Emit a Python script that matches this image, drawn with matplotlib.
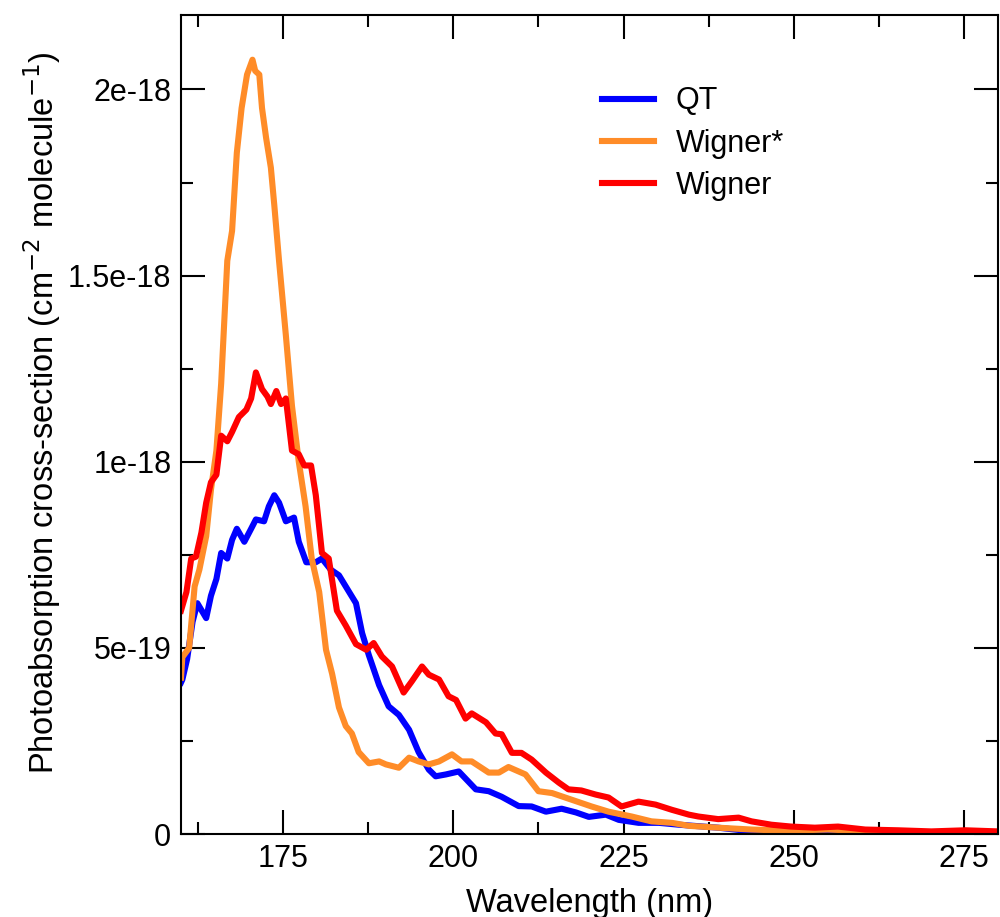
import matplotlib.pyplot as plt
from matplotlib.ticker import MultipleLocator, FixedLocator, FixedFormatter
import numpy as np

plt.rcParams['font.family'] = ['Liberation Sans', 'DejaVu Sans']

# wavelength (nm) and cross-section (units of 1e-19 cm^2 molecule^-1)
qt_x = [160.0, 160.2, 160.9, 161.7, 162.4, 163.7, 164.4, 165.2, 165.9, 166.8,
        167.5, 168.2, 169.3, 170.3, 171.0, 172.2, 172.9, 173.7, 174.4, 175.4,
        176.6, 177.3, 178.4, 179.8, 180.7, 182.0, 183.2, 184.2, 185.7, 186.6,
        187.6, 189.1, 190.5, 192.0, 193.5, 194.9, 196.4, 197.4, 198.9, 200.8,
        203.3, 205.2, 207.1, 209.6, 211.5, 213.6, 215.9, 218.0, 219.9, 222.4,
        224.3, 227.2, 230.2, 233.1, 238.9, 243.8, 248.8, 260.0, 280.0]
qt_y = [4.07, 4.15, 4.7, 5.7, 6.2, 5.8, 6.4, 6.85, 7.55, 7.4,
        7.9, 8.2, 7.85, 8.2, 8.45, 8.4, 8.8, 9.1, 8.9, 8.4,
        8.5, 7.85, 7.3, 7.3, 7.4, 7.1, 6.95, 6.65, 6.2, 5.4,
        4.8, 4.0, 3.43, 3.2, 2.8, 2.2, 1.73, 1.55, 1.6, 1.68,
        1.2, 1.15, 1.0, 0.75, 0.74, 0.6, 0.68, 0.58, 0.46, 0.52,
        0.38, 0.3, 0.3, 0.25, 0.17, 0.07, 0.04, 0.02, 0.01]

wstar_x = [160.0, 160.2, 161.2, 162.0, 162.7, 163.7, 164.4, 165.2, 165.9, 166.8,
           167.5, 168.2, 168.9, 169.7, 170.5, 170.9, 171.5, 171.9, 172.5, 173.2,
           173.7, 174.4, 175.4, 176.3, 177.3, 178.3, 179.2, 180.3, 181.3, 182.2,
           183.2, 184.2, 185.1, 186.1, 187.6, 189.1, 190.1, 192.0, 193.5, 194.9,
           196.4, 197.9, 199.8, 201.2, 202.7, 205.2, 206.7, 208.1, 210.6, 212.5,
           214.5, 217.4, 220.3, 222.8, 226.2, 229.1, 232.1, 234.6, 238.9, 243.8,
           248.8, 255.0, 260.5, 270.0, 280.0]
wstar_y = [4.2, 4.75, 5.0, 6.65, 7.1, 8.0, 9.25, 10.3, 12.1, 15.4,
           16.2, 18.3, 19.5, 20.4, 20.8, 20.5, 20.4, 19.5, 18.7, 17.9,
           16.9, 15.4, 13.4, 11.5, 10.0, 8.8, 7.4, 6.5, 4.95, 4.3,
           3.4, 2.9, 2.7, 2.2, 1.9, 1.95, 1.87, 1.78, 2.05, 1.95,
           1.87, 1.95, 2.14, 1.95, 1.95, 1.65, 1.65, 1.8, 1.6, 1.15,
           1.1, 0.92, 0.74, 0.6, 0.47, 0.34, 0.3, 0.22, 0.17, 0.12,
           0.09, 0.12, 0.08, 0.05, 0.04]

wigner_x = [160.0, 160.8, 161.5, 162.2, 163.0, 163.7, 164.4, 165.2, 165.9, 166.8,
            167.5, 168.5, 169.6, 170.3, 171.0, 171.9, 172.7, 173.2, 174.0, 174.7,
            175.4, 176.3, 177.3, 178.1, 179.1, 179.8, 180.7, 181.7, 182.9, 184.2,
            185.7, 187.2, 188.3, 189.5, 191.0, 192.7, 193.9, 195.4, 196.4, 197.9,
            199.3, 200.4, 201.8, 202.7, 204.8, 206.2, 207.1, 208.6, 210.0, 211.5,
            213.6, 215.5, 216.9, 218.8, 220.9, 222.8, 224.7, 227.2, 229.7, 232.1,
            234.6, 236.0, 238.9, 241.9, 243.8, 246.7, 249.6, 253.1, 256.5, 260.5,
            265.3, 270.2, 275.2, 280.0]
wigner_y = [6.0, 6.5, 7.4, 7.45, 8.1, 8.9, 9.45, 9.65, 10.7, 10.55,
            10.8, 11.2, 11.4, 11.7, 12.4, 11.95, 11.75, 11.55, 11.9, 11.55,
            11.7, 10.3, 10.2, 9.9, 9.9, 9.1, 7.55, 7.4, 6.0, 5.6,
            5.1, 4.95, 5.13, 4.77, 4.5, 3.8, 4.1, 4.5, 4.28, 4.15,
            3.7, 3.6, 3.1, 3.24, 3.0, 2.7, 2.68, 2.18, 2.18, 2.0,
            1.65, 1.38, 1.2, 1.17, 1.06, 0.98, 0.74, 0.87, 0.79, 0.65,
            0.52, 0.47, 0.4, 0.44, 0.34, 0.25, 0.2, 0.17, 0.2, 0.12,
            0.1, 0.07, 0.1, 0.07]

ytick_vals = [0, 5e-19, 1e-18, 1.5e-18, 2e-18]
ytick_labels = ['0', '5e-19', '1e-18', '1.5e-18', '2e-18']

fig = plt.figure(figsize=(10, 9.17), dpi=100)
ax = fig.add_axes([0.181, 0.0905, 0.817, 0.8931])

ax.plot(qt_x, np.array(qt_y) * 1e-19, color='#0000ff', lw=4.4, label='QT')
ax.plot(wstar_x, np.array(wstar_y) * 1e-19, color='#ff8c28', lw=4.4, label='Wigner*')
ax.plot(wigner_x, np.array(wigner_y) * 1e-19, color='#ff0000', lw=4.4, label='Wigner')

ax.set_xlim(160, 280)
ax.set_ylim(0, 2.2e-18)

ax.xaxis.set_major_locator(MultipleLocator(25))
ax.xaxis.set_minor_locator(MultipleLocator(12.5))
ax.yaxis.set_major_locator(FixedLocator(ytick_vals))
ax.yaxis.set_major_formatter(FixedFormatter(ytick_labels))
ax.yaxis.set_minor_locator(MultipleLocator(2.5e-19))

ax.tick_params(which='both', direction='in', top=True, right=True, width=1.5,
               labelsize=22, colors='black')
ax.tick_params(which='major', length=17, pad=7)
ax.tick_params(which='minor', length=8.5)
for s in ax.spines.values():
    s.set_linewidth(1.5)

ax.set_xlabel('Wavelength (nm)', fontsize=23.5, labelpad=10)
ax.set_ylabel('Photoabsorption cross-section (cm$^{-2}$ molecule$^{-1}$)',
              fontsize=23.5)
ax.yaxis.set_label_coords(-0.144, 0.515)

ax.legend(loc='upper left', bbox_to_anchor=(0.515, 0.913), frameon=False,
          fontsize=22, handlelength=1.7, handletextpad=0.72,
          labelspacing=0.4, borderpad=0, borderaxespad=0)

fig.savefig('out.png', dpi=100)
